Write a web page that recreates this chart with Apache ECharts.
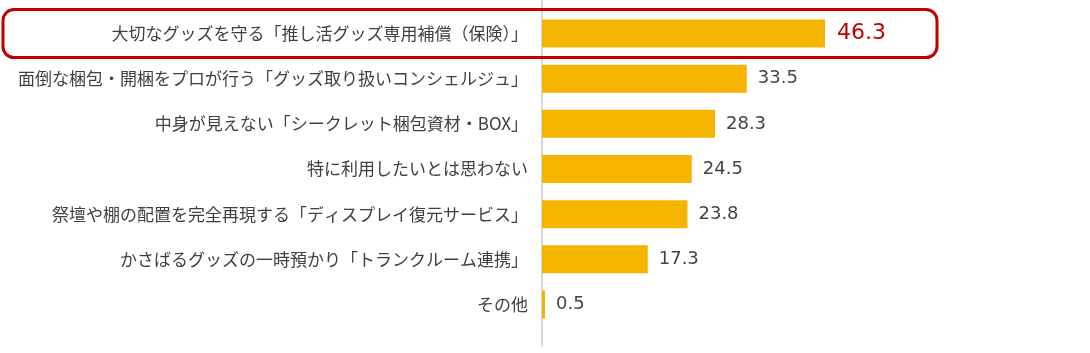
<!DOCTYPE html>
<html>
<head>
<meta charset="utf-8">
<script src="https://cdn.jsdelivr.net/npm/echarts@6/dist/echarts.min.js"></script>
<style>
  html, body { margin: 0; padding: 0; background: #fff; }
  #chart { width: 1090px; height: 353px; }
</style>
</head>
<body>
<div id="chart"></div>
<script>
// 項目（上から順）
var categories = [
  '大切なグッズを守る「推し活グッズ専用補償（保険）」',
  '面倒な梱包・開梱をプロが行う「グッズ取り扱いコンシェルジュ」',
  '中身が見えない「シークレット梱包資材・BOX」',
  '特に利用したいとは思わない',
  '祭壇や棚の配置を完全再現する「ディスプレイ復元サービス」',
  'かさばるグッズの一時預かり「トランクルーム連携」',
  'その他'
];
var values = [46.3, 33.5, 28.3, 24.5, 23.8, 17.3, 0.5];
var highlightIndex = 0;

var chart = echarts.init(document.getElementById('chart'));

var seriesData = values.map(function (v, i) {
  if (i === highlightIndex) {
    return {
      value: v,
      label: { color: '#c00000', fontSize: 22, distance: 12 }
    };
  }
  return v;
});

var option = {
  animation: false,
  grid: { left: 542, top: 11, width: 489, height: 316 },
  xAxis: {
    type: 'value',
    min: 0,
    max: 80,
    show: false
  },
  yAxis: {
    type: 'category',
    inverse: true,
    data: categories,
    axisLine: { show: false },
    axisTick: { show: false },
    axisLabel: {
      margin: 14,
      fontSize: 17,
      color: '#404040',
      fontFamily: '"Noto Sans CJK JP", sans-serif'
    }
  },
  series: [{
    type: 'bar',
    data: seriesData,
    barWidth: 28,
    itemStyle: { color: '#f4b400' },
    label: {
      show: true,
      position: 'right',
      distance: 11,
      fontSize: 18,
      color: '#444',
      fontFamily: '"DejaVu Sans", sans-serif',
      formatter: function (p) { return p.value.toFixed(1); }
    }
  }]
};

chart.setOption(option);

// 縦の軸線と強調枠
var yTop = chart.convertToPixel({ gridIndex: 0 }, [0, categories[highlightIndex]]);
var x0 = chart.convertToPixel({ gridIndex: 0 }, [0, 0])[0];
chart.setOption({
  graphic: [
    {
      type: 'line',
      shape: { x1: x0, y1: 0, x2: x0, y2: 347 },
      style: { stroke: '#d9d9d9', lineWidth: 2 },
      z: 0
    },
    {
      type: 'rect',
      shape: { x: 3, y: yTop[1] - 24, width: 934, height: 48, r: 11 },
      style: { fill: 'none', stroke: '#c00000', lineWidth: 3 },
      z: 10
    }
  ]
});
</script>
</body>
</html>
